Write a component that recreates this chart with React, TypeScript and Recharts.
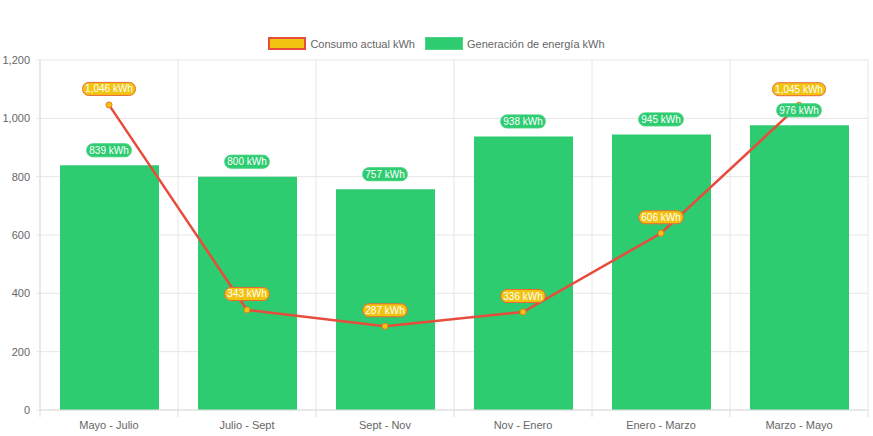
import React from "react";
import { ComposedChart, Bar, Line, XAxis, YAxis, CartesianGrid, LabelList } from "recharts";

document.body.style.margin = "0";

const categories = ["Mayo - Julio", "Julio - Sept", "Sept - Nov", "Nov - Enero", "Enero - Marzo", "Marzo - Mayo"];
const consumo = [1046, 343, 287, 336, 606, 1045];
const generacion = [839, 800, 757, 938, 945, 976];
const yTicks = [0, 200, 400, 600, 800, 1000, 1200];

const data = categories.map((name, i) => ({ name, consumo: consumo[i], generacion: generacion[i] }));

const FONT = "'Liberation Sans', Arial, Helvetica, sans-serif";
const fmt = (v: number) => v.toLocaleString("en-US");

// rough text width for 10px Arial-like font
const textWidth = (s: string) => {
  let w = 0;
  for (const ch of s) {
    if (/[0-9]/.test(ch)) w += 5.56;
    else if (ch === "," || ch === " ") w += 2.78;
    else if (ch === "W") w += 9.44;
    else if (ch === "k") w += 5;
    else w += 5.56;
  }
  return w;
};

const pill = (fill: string, stroke: string, dyOff: number) => (props: any) => {
  const x = props.x ?? props.viewBox?.x;
  const y = props.y ?? props.viewBox?.y;
  if (x == null || y == null || props.value == null) return null;
  const label = `${fmt(props.value)} kWh`;
  const w = textWidth(label) + 5;
  const h = 13;
  const cy = y - dyOff;
  return (
    <g>
      <rect x={x - w / 2} y={cy - h / 2} width={w} height={h} rx={6} ry={6} fill={fill} stroke={stroke} strokeWidth={1} />
      <text x={x} y={cy} dy="0.35em" textAnchor="middle" fill="#fff" fontSize={10} fontFamily={FONT}>
        {label}
      </text>
    </g>
  );
};

const ConsumoLabel = pill("#f1c40f", "#e8683c", 16);
const GeneracionLabel = pill("#2ecc71", "#3fd07c", 15);

// category tick: label in the middle, small marks on the band edges (chart.js style)
const CatTick = (props: any) => {
  const { x, y, payload, index, visibleTicksCount, width } = props;
  const half = payload?.offset || (width && visibleTicksCount ? width / visibleTicksCount / 2 : 69);
  const top = y - 11;
  const last = index === visibleTicksCount - 1;
  return (
    <g>
      <line x1={x - half} x2={x - half} y1={top} y2={top + 7} stroke="#ddd" />
      {last && <line x1={x + half} x2={x + half} y1={top} y2={top + 7} stroke="#ddd" />}
      <text x={x} y={y} dy="0.71em" textAnchor="middle" fill="#666" fontSize={11} fontFamily={FONT}>
        {payload.value}
      </text>
    </g>
  );
};

const Legend = () => (
  <div
    style={{
      position: "absolute",
      top: 37,
      left: 0,
      width: 873,
      display: "flex",
      justifyContent: "center",
      alignItems: "center",
      fontFamily: FONT,
      fontSize: 11,
      color: "#666",
    }}
  >
    <div style={{ width: 34, height: 9, background: "#f1c40f", border: "2px solid #e74c3c", marginRight: 4 }} />
    <span style={{ marginRight: 10 }}>Consumo actual kWh</span>
    <div style={{ width: 36, height: 11, background: "#2ecc71", border: "1px solid #4fd488", marginRight: 4 }} />
    <span>Generación de energía kWh</span>
  </div>
);

export default function App() {
  return (
    <div style={{ position: "relative", width: 873, height: 436 }}>
      <Legend />
      <ComposedChart width={873} height={436} data={data} margin={{ top: 60, right: 5, left: 0, bottom: 0 }}>
        <CartesianGrid
          stroke="#e6e6e6"
          verticalCoordinatesGenerator={({ offset }: any) =>
            [...categories.map((_, i) => offset.left + (i * offset.width) / categories.length), offset.left + offset.width]
          }
        />
        <XAxis
          dataKey="name"
          height={26}
          tickLine={false}
          axisLine={{ stroke: "#ddd" }}
          tickSize={6}
          tickMargin={5}
          tick={<CatTick />}
          interval={0}
        />
        <YAxis
          domain={[0, 1200]}
          ticks={yTicks}
          width={40}
          tickFormatter={fmt}
          tickSize={4}
          tickMargin={6}
          tickLine={{ stroke: "#e6e6e6" }}
          axisLine={{ stroke: "#ddd" }}
          tick={{ fill: "#666", fontSize: 11, fontFamily: FONT }}
        />
        <Bar dataKey="generacion" fill="#2ecc71" barSize={99} isAnimationActive={false} />
        <Line
          dataKey="consumo"
          type="linear"
          stroke="#e74c3c"
          strokeWidth={2.5}
          dot={{ r: 3, fill: "#f1c40f", stroke: "#e67e22", strokeWidth: 1 }}
          activeDot={false}
          isAnimationActive={false}
        >
          <LabelList dataKey="consumo" content={ConsumoLabel} />
        </Line>
        {/* invisible line so the bar labels sit above the red line, like the original */}
        <Line dataKey="generacion" stroke="none" dot={false} activeDot={false} legendType="none" isAnimationActive={false}>
          <LabelList dataKey="generacion" content={GeneracionLabel} />
        </Line>
      </ComposedChart>
    </div>
  );
}
